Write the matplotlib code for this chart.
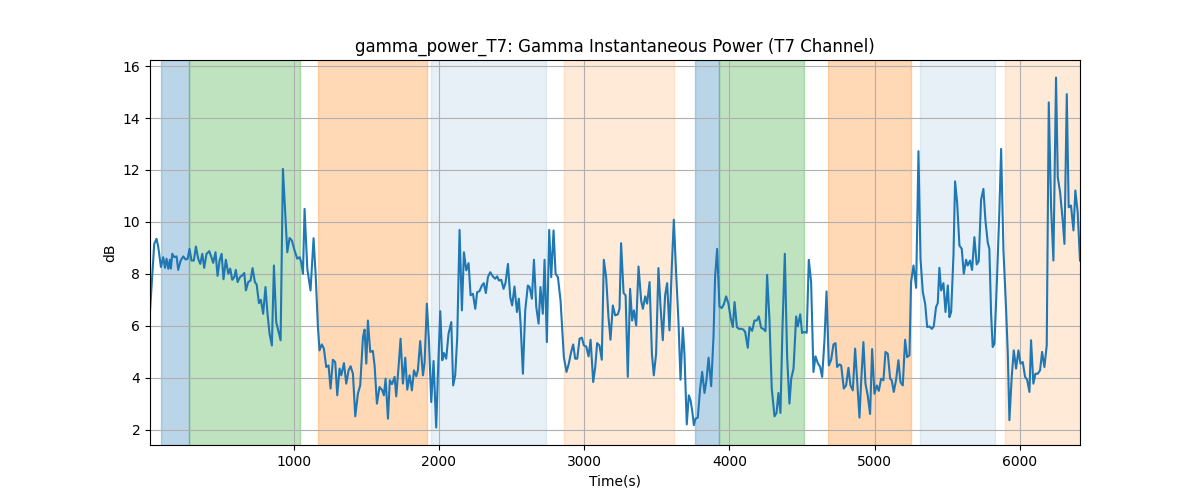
import matplotlib
matplotlib.use("Agg")
import matplotlib.pyplot as plt

# gamma power trace (seconds, dB)
time_s = [
    12, 41, 57, 69, 87, 103, 115, 126, 138, 149, 156, 165, 179, 195, 206, 223,
    241, 257, 271, 284, 298, 314, 328, 344, 358, 372, 385, 401, 420, 436, 447,
    463, 477, 491, 505, 518, 534, 551, 564, 578, 592, 603, 615, 631, 647, 661,
    672, 688, 704, 718, 734, 746, 762, 775, 791, 807, 821, 835, 851,
    865, 881, 911, 927, 957, 973, 989, 1007, 1026, 1042, 1053, 1065, 1076,
    1095, 1117, 1138, 1152, 1168, 1179, 1195, 1209, 1225, 1241, 1255, 1271,
    1287, 1301, 1317, 1329, 1347, 1363, 1379, 1393, 1409, 1425, 1443, 1459,
    1478, 1489, 1501, 1512, 1528, 1546, 1558, 1574, 1592, 1611, 1622, 1634,
    1650, 1663, 1678, 1696, 1707, 1723, 1737, 1753, 1769, 1783, 1799, 1815,
    1829, 1845, 1856, 1872, 1891, 1902, 1918, 1932, 1948, 1964, 1982, 1994,
    2010, 2024, 2035, 2051, 2067, 2086, 2099, 2113, 2127, 2143, 2159, 2173,
    2189, 2205, 2219, 2235, 2251, 2264, 2280, 2297, 2310, 2324, 2338, 2354,
    2372, 2388, 2402, 2414, 2430, 2446, 2459, 2476, 2492, 2505,
    2521, 2538, 2551, 2563, 2579, 2595, 2613, 2625, 2641, 2655, 2671, 2687,
    2700, 2716, 2728, 2744, 2760, 2774, 2790, 2804, 2820, 2838, 2861, 2879,
    2895, 2911, 2925, 2939, 2953, 2969, 2985, 2999, 3015, 3031, 3045, 3063,
    3077, 3090, 3106, 3122, 3136, 3152, 3168, 3182, 3198, 3214, 3233, 3244,
    3255, 3272, 3286, 3301, 3317,
    3331, 3343, 3359, 3375, 3393, 3405, 3421, 3434, 3451, 3467, 3480, 3496,
    3512, 3526, 3542, 3558, 3572, 3588, 3604, 3618, 3634, 3650, 3664, 3680,
    3691, 3707, 3721, 3733, 3744, 3756, 3767, 3783, 3799, 3813, 3829, 3843,
    3857, 3875, 3891, 3902, 3916, 3932, 3948, 3962, 3978, 3994, 4008, 4024,
    4036, 4052, 4065, 4081, 4097, 4109, 4127, 4139, 4157,
    4173, 4189, 4203, 4219, 4235, 4249, 4260, 4276, 4292, 4311, 4325, 4338,
    4352, 4366, 4382, 4398, 4414, 4426, 4442, 4460, 4471, 4488, 4501, 4517,
    4533, 4547, 4563, 4579, 4593, 4609, 4625, 4639, 4655, 4669, 4685, 4701,
    4717, 4731, 4742, 4758, 4770, 4788, 4804, 4820, 4834, 4850, 4866, 4880,
    4896, 4907, 4923, 4937, 4953, 4969, 4983,
    4999, 5015, 5029, 5045, 5061, 5075, 5091, 5107, 5118, 5132, 5148, 5164,
    5178, 5194, 5210, 5224, 5240, 5251, 5268, 5286, 5302, 5316, 5332, 5348,
    5362, 5378, 5394, 5407, 5423, 5435, 5446, 5458, 5474, 5488, 5504, 5515,
    5527, 5543, 5554, 5568, 5584, 5600, 5614, 5630, 5641, 5657, 5671, 5687,
    5703, 5717, 5733, 5749, 5763, 5779,
    5790, 5802, 5813, 5825, 5843, 5859, 5871, 5887, 5905, 5917, 5928, 5944,
    5958, 5974, 5990, 6004, 6020, 6036, 6050, 6066, 6077, 6093, 6107, 6123,
    6139, 6153, 6169, 6185, 6199, 6215, 6231, 6249, 6261, 6277, 6295, 6307,
    6323, 6336, 6352, 6369, 6382, 6398, 6414,
]
power_db = [
    6.55, 9.15, 9.35, 9.03, 8.26, 8.64, 8.23, 8.58, 8.19, 8.54, 8.2, 8.77,
    8.64, 8.67, 8.15, 8.51, 8.67, 8.55, 8.58, 8.96, 8.51, 8.51, 9.05, 8.58,
    8.38, 8.77, 8.23, 8.77, 8.87, 8.62, 8.42, 8.83, 7.92, 8.51, 8.77, 7.79,
    8.54, 8.0, 8.2, 7.77, 7.87, 8.15, 7.68, 7.87, 7.94, 8.03, 7.36, 7.68,
    7.74, 8.22, 7.68, 7.59, 6.87, 7.0, 6.46, 7.49, 6.46, 5.69, 5.24,
    8.32, 6.14, 5.44, 12.04, 8.83, 9.38, 9.28, 8.9, 8.58, 8.64, 8.45, 8.0,
    10.5, 8.19, 7.36, 9.37, 8.0, 5.95, 5.05, 5.28, 5.12, 4.41, 4.47, 3.58,
    4.69, 4.6, 3.32, 4.35, 4.09, 4.56, 3.77, 4.28, 4.44, 4.15, 2.51, 3.38,
    3.7, 5.56, 5.85, 4.54, 6.2, 4.99, 5.03, 4.47, 3.0, 3.64, 3.51, 3.32,
    3.96, 2.42, 3.9, 3.75, 4.03, 3.28, 4.41, 5.5, 3.77, 4.77, 3.54, 4.09,
    3.51, 4.28, 4.05, 4.28, 5.41, 4.09, 4.56, 6.85, 5.44, 3.06, 4.64, 2.08,
    4.15, 6.56, 4.67, 4.95, 4.73, 5.69, 6.14, 3.7, 4.09, 5.56, 9.69, 6.59,
    8.83, 8.13, 8.41, 7.17, 7.23, 6.65, 7.29, 7.33, 7.55, 7.64, 7.26, 7.87,
    8.06, 7.9, 7.81, 7.9, 7.74, 7.77, 7.42, 7.64, 8.38, 7.1, 6.78,
    7.51, 6.53, 7.04, 6.08, 4.15, 6.59, 7.55, 7.49, 7.04, 8.54, 6.72, 6.08,
    7.49, 6.46, 8.54, 5.37, 9.69, 7.87, 9.67, 8.0, 7.87, 6.98, 4.79, 4.22,
    4.54, 4.99, 5.28, 4.73, 4.73, 5.5, 5.54, 5.24, 5.2, 4.82, 5.46, 3.83,
    4.41, 5.33, 5.24, 4.69, 8.54, 7.87, 6.33, 5.46, 6.78, 6.4, 6.44, 6.65,
    9.18, 7.26, 7.17, 4.03, 7.42,
    6.2, 6.59, 6.01, 8.28, 6.97, 6.65, 7.13, 6.85, 7.68, 4.92, 4.09, 4.92,
    8.22, 6.78, 5.44, 7.17, 7.64, 5.82, 8.26, 10.08, 8.0, 6.14, 3.92, 5.92,
    4.92, 2.2, 3.32, 3.13, 2.74, 2.17, 2.42, 2.46, 3.58, 4.22, 3.41, 3.92,
    4.77, 3.67, 5.56, 7.87, 8.96, 6.74, 6.68, 6.82, 7.13, 6.85, 6.33, 5.95,
    6.91, 5.95, 5.88, 5.88, 5.85, 5.76, 5.15, 5.95, 5.8,
    6.2, 6.2, 6.36, 5.92, 5.87, 5.79, 7.96, 6.27, 3.58, 2.51, 2.64, 3.41,
    2.64, 5.95, 8.77, 4.79, 3.0, 3.96, 4.35, 6.36, 5.97, 6.44, 5.72, 5.76,
    5.73, 8.54, 7.68, 4.22, 4.82, 4.56, 4.41, 4.03, 5.44, 7.32, 4.47, 4.69,
    5.28, 5.33, 4.41, 4.51, 4.47, 3.58, 3.7, 4.38, 3.7, 3.51, 5.12, 3.9,
    2.46, 3.8, 5.37, 3.77, 3.3, 2.6, 5.1,
    3.38, 3.7, 3.49, 3.96, 3.9, 4.99, 4.92, 3.96, 3.9, 3.45, 3.92, 4.67,
    3.83, 3.7, 5.46, 4.79, 4.86, 7.68, 8.32, 7.46, 12.72, 8.58, 7.29, 6.85,
    5.95, 5.97, 5.88, 5.97, 6.72, 6.87, 8.23, 7.36, 7.64, 6.53, 7.55, 6.33,
    6.53, 8.71, 11.56, 10.76, 9.09, 8.96, 8.0, 8.54, 8.32, 8.51, 8.15, 9.41,
    8.36, 8.49, 10.85, 11.27, 10.05, 9.2,
    8.96, 6.46, 5.18, 5.3, 7.87, 10.44, 12.81, 8.9, 6.65, 4.92, 2.36, 4.03,
    5.05, 4.35, 5.05, 4.54, 4.6, 4.03, 3.92, 3.45, 5.44, 3.77, 4.15, 4.15,
    4.28, 4.99, 4.41, 5.24, 14.6, 10.56, 8.51, 15.56, 11.72, 11.14, 10.05, 9.15,
    14.92, 10.56, 10.63, 9.67, 11.21, 10.37, 8.51,
]

# shaded task blocks
span_start = [85, 278, 1168, 1944, 2861, 3765, 3930, 4678, 5316, 5898]
span_end = [278, 1042, 1918, 2735, 3616, 3930, 4517, 5254, 5832, 6414]
span_kind = ["rest", "task", "load", "idle", "recall",
             "rest", "task", "load", "idle", "recall"]

SPAN_STYLE = {
    "rest": ("#1f77b4", 0.30),
    "task": ("#2ca02c", 0.30),
    "load": ("#ff7f0e", 0.30),
    "idle": ("#1f77b4", 0.11),
    "recall": ("#ff7f0e", 0.16),
}

fig, ax = plt.subplots(figsize=(12, 5), dpi=100)

for s, e, k in zip(span_start, span_end, span_kind):
    c, a = SPAN_STYLE[k]
    ax.axvspan(s, e, color=c, alpha=a)

ax.plot(time_s, power_db, color="#1f77b4", lw=1.5)

ax.set_xlim(time_s[0], time_s[-1])
ax.set_title("gamma_power_T7: Gamma Instantaneous Power (T7 Channel)")
ax.set_xlabel("Time(s)")
ax.set_ylabel("dB")
ax.grid(True)

fig.savefig("out.png")
